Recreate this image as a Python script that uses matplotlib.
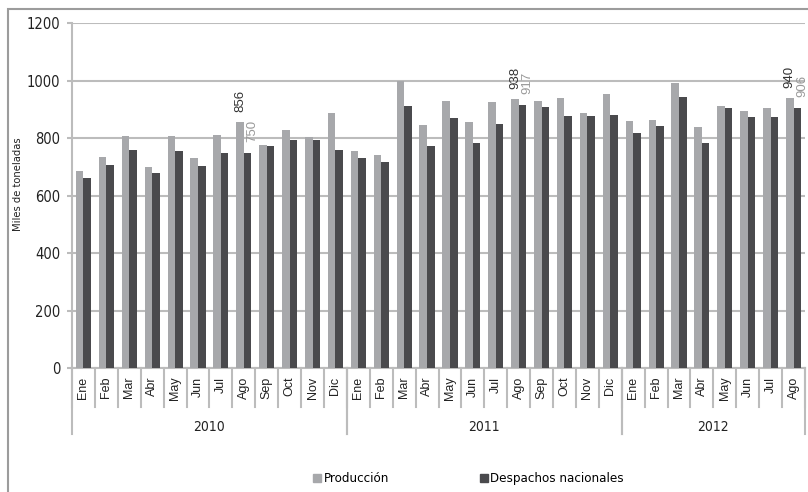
import numpy as np
import matplotlib
matplotlib.use('Agg')
import matplotlib.pyplot as plt
from matplotlib import font_manager
from matplotlib.lines import Line2D
from matplotlib.patches import Rectangle

meses = ['Ene','Feb','Mar','Abr','May','Jun','Jul','Ago','Sep','Oct','Nov','Dic']
anios = ['2010','2011','2012']
n_meses = [12, 12, 8]

produccion = [688, 735, 807, 700, 807, 732, 813, 856, 778, 830, 806, 889,
              755, 742, 1000, 846, 931, 858, 926, 938, 931, 941, 887, 954,
              859, 864, 992, 839, 911, 894, 904, 940]
despachos = [661, 708, 758, 679, 756, 705, 749, 750, 773, 794, 794, 761,
             730, 719, 914, 774, 870, 783, 849, 917, 910, 877, 879, 882,
             817, 842, 945, 783, 904, 873, 875, 906]
# meses con etiqueta de valor (indices)
etiquetados = [7, 19, 31]

etiquetas_x = []
for k in range(len(anios)):
	etiquetas_x += meses[:n_meses[k]]

c_prod = '#a7a8ab'
c_desp = '#4a4a4d'
c_grid = '#bcbcbc'
regular = ['Liberation Sans', 'DejaVu Sans']

def fp(size):
	return font_manager.FontProperties(family='DejaVu Sans', stretch='condensed', size=size)

W, H = 808, 492
fig = plt.figure(figsize=(W/100.0, H/100.0), dpi=100)
x0, x1, y0, y1 = 72, 805, 23.3, 368.3
ax = fig.add_axes([x0/W, 1-y1/H, (x1-x0)/W, (y1-y0)/H])

x = np.arange(len(produccion))
bw = 0.33
ax.bar(x-bw/2, produccion, bw, color=c_prod, zorder=3)
ax.bar(x+bw/2, despachos, bw, color=c_desp, zorder=3)

ax.set_xlim(-0.5, len(produccion)-0.5)
ax.set_ylim(0, 1200)
ax.set_yticks(np.arange(0, 1201, 200))
ax.yaxis.grid(True, color=c_grid, lw=1.5, zorder=0)
ax.set_axisbelow(True)
for s in ['top', 'right']:
	ax.spines[s].set_visible(False)
ax.spines['left'].set_color(c_grid)
ax.spines['left'].set_linewidth(1.5)
ax.spines['bottom'].set_color(c_grid)
ax.spines['bottom'].set_linewidth(1.5)
ax.tick_params(axis='y', length=3.6, width=1.5, color=c_grid, pad=5, labelcolor='#222222')
for t in ax.get_yticklabels():
	t.set_fontproperties(fp(10.5))

ax.set_xticks(x)
ax.set_xticklabels(etiquetas_x, rotation=90, family=regular, fontsize=9, color='#222222')
ax.tick_params(axis='x', length=0, pad=6)

ax.set_ylabel('Miles de toneladas', fontproperties=fp(8), color='#222222')
ax.yaxis.set_label_coords(-0.067, 0.533)

# separadores de meses y anios bajo el eje
tr = ax.get_xaxis_transform()
for i in range(len(produccion)+1):
	ax.plot([i-0.5, i-0.5], [0, -0.111], color=c_grid, lw=1.5, transform=tr, clip_on=False)
ini = 0
for k in range(len(anios)):
	fin = ini + n_meses[k]
	ax.plot([ini-0.5, ini-0.5], [0, -0.19], color=c_grid, lw=1.5, transform=tr, clip_on=False)
	ax.plot([fin-0.5, fin-0.5], [0, -0.19], color=c_grid, lw=1.5, transform=tr, clip_on=False)
	ax.text((ini+fin-1)/2.0, -0.17, anios[k], transform=tr, ha='center', va='center',
		fontproperties=fp(10), color='#222222')
	ini = fin

# etiquetas de valor
for i in etiquetados:
	ax.annotate(str(produccion[i]), (x[i]-bw/2, produccion[i]), xytext=(0, 7),
		textcoords='offset points', rotation=90, ha='center', va='bottom',
		family=regular, fontsize=9.5, color='#333333', annotation_clip=False)
	ax.annotate(str(despachos[i]), (x[i]+bw/2, despachos[i]), xytext=(3.5, 8),
		textcoords='offset points', rotation=90, ha='center', va='bottom',
		family=regular, fontsize=9.5, color='#9a9a9a', annotation_clip=False)

h = [Line2D([], [], ls='', marker='s', ms=6, color=c_prod),
	Line2D([], [], ls='', marker='s', ms=6, color=c_desp)]
leg = fig.legend(h, ['Producción', 'Despachos nacionales'], loc='center',
	bbox_to_anchor=(0.579, 0.027), ncol=2, frameon=False, handlelength=0.8,
	handletextpad=0.1, columnspacing=6.8, prop=fp(9.5))

fig.patches.append(Rectangle((8.0/W, -0.1), 1.2, 1.1-8.7/H, transform=fig.transFigure,
	fill=False, edgecolor='#9c9c9c', lw=1.5))

plt.savefig('out.png', dpi=100)
